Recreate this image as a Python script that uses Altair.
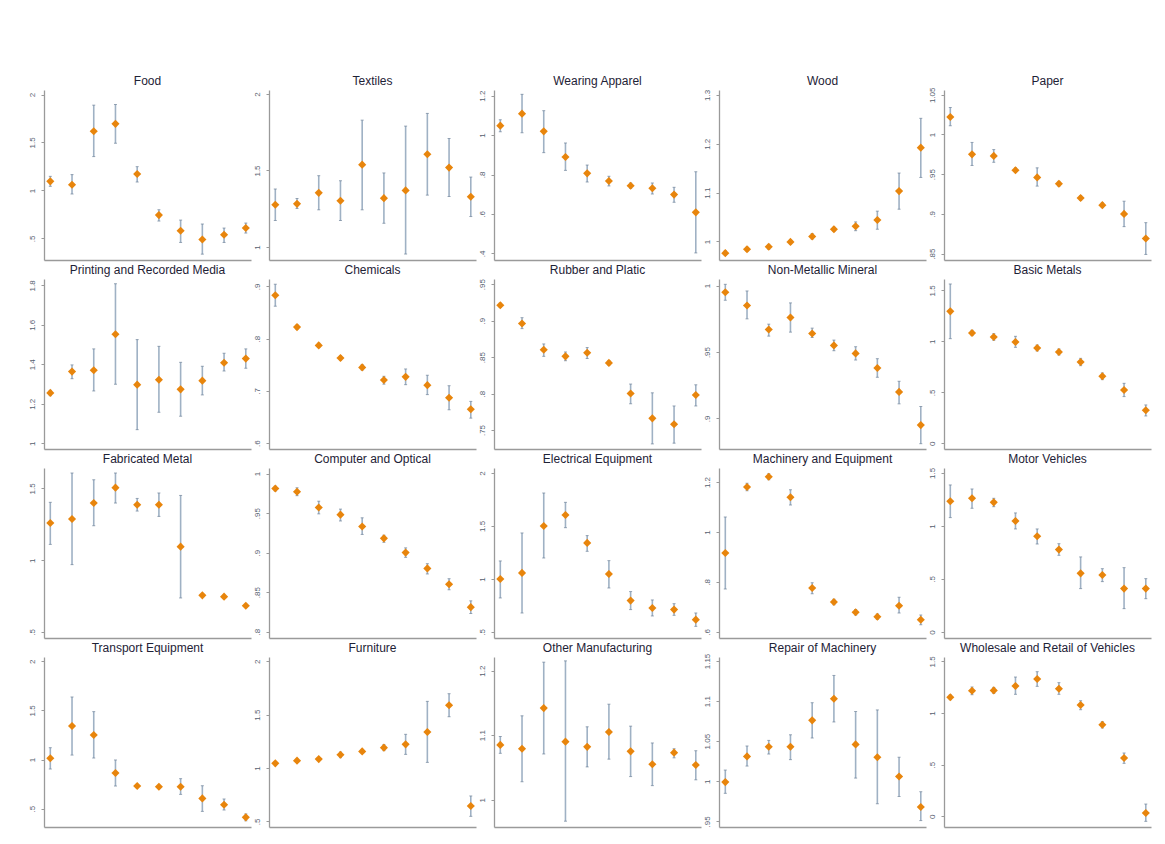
import altair as alt
import pandas as pd

PERIODS = list(range(1, 11))

# ---- estimates, lower and upper bounds per sector ----
food_est = [1.095, 1.060, 1.617, 1.694, 1.172, 0.743, 0.580, 0.489, 0.538, 0.608]
food_lo = [1.043, 0.963, 1.353, 1.492, 1.088, 0.681, 0.458, 0.336, 0.458, 0.556]
food_hi = [1.147, 1.165, 1.889, 1.896, 1.248, 0.799, 0.691, 0.650, 0.608, 0.660]

textiles_est = [1.276, 1.282, 1.354, 1.302, 1.538, 1.319, 1.370, 1.606, 1.519, 1.328]
textiles_lo = [1.173, 1.252, 1.243, 1.173, 1.243, 1.155, 0.954, 1.339, 1.330, 1.199]
textiles_hi = [1.379, 1.317, 1.466, 1.433, 1.829, 1.484, 1.790, 1.873, 1.709, 1.457]

apparel_est = [1.048, 1.109, 1.019, 0.889, 0.806, 0.767, 0.743, 0.730, 0.698, 0.608]
apparel_lo = [1.017, 1.012, 0.911, 0.821, 0.762, 0.742, 0.730, 0.701, 0.659, 0.402]
apparel_hi = [1.078, 1.207, 1.124, 0.960, 0.848, 0.791, 0.757, 0.757, 0.735, 0.814]

wood_est = [0.976, 0.984, 0.989, 0.999, 1.010, 1.025, 1.031, 1.044, 1.103, 1.192]
wood_lo = [0.972, 0.980, 0.984, 0.995, 1.005, 1.021, 1.022, 1.025, 1.066, 1.131]
wood_hi = [0.981, 0.988, 0.994, 1.003, 1.016, 1.029, 1.040, 1.062, 1.140, 1.252]

paper_est = [1.022, 0.975, 0.973, 0.955, 0.946, 0.938, 0.920, 0.911, 0.900, 0.869]
paper_lo = [1.011, 0.961, 0.965, 0.953, 0.935, 0.935, 0.917, 0.908, 0.884, 0.849]
paper_hi = [1.034, 0.990, 0.981, 0.958, 0.958, 0.941, 0.923, 0.914, 0.916, 0.889]

printing_est = [1.255, 1.363, 1.370, 1.552, 1.297, 1.322, 1.273, 1.317, 1.408, 1.429]
printing_lo = [1.241, 1.327, 1.265, 1.299, 1.069, 1.157, 1.137, 1.245, 1.366, 1.380]
printing_hi = [1.268, 1.397, 1.478, 1.808, 1.525, 1.491, 1.410, 1.390, 1.456, 1.478]

chemicals_est = [0.883, 0.822, 0.787, 0.763, 0.745, 0.721, 0.727, 0.711, 0.687, 0.665]
chemicals_lo = [0.862, 0.818, 0.783, 0.759, 0.740, 0.713, 0.712, 0.693, 0.664, 0.648]
chemicals_hi = [0.904, 0.826, 0.791, 0.767, 0.750, 0.728, 0.742, 0.730, 0.710, 0.680]

rubber_est = [0.921, 0.896, 0.860, 0.851, 0.856, 0.842, 0.800, 0.766, 0.758, 0.798]
rubber_lo = [0.918, 0.889, 0.851, 0.845, 0.848, 0.839, 0.786, 0.731, 0.732, 0.783]
rubber_hi = [0.924, 0.904, 0.868, 0.857, 0.863, 0.845, 0.813, 0.801, 0.783, 0.812]

mineral_est = [0.995, 0.985, 0.967, 0.976, 0.964, 0.955, 0.949, 0.938, 0.920, 0.895]
mineral_lo = [0.989, 0.975, 0.962, 0.965, 0.961, 0.951, 0.944, 0.931, 0.911, 0.881]
mineral_hi = [1.001, 0.996, 0.971, 0.987, 0.968, 0.959, 0.954, 0.945, 0.928, 0.909]

basic_est = [1.294, 1.082, 1.042, 0.993, 0.935, 0.895, 0.797, 0.657, 0.523, 0.324]
basic_lo = [1.026, 1.056, 1.010, 0.941, 0.905, 0.866, 0.761, 0.624, 0.458, 0.268]
basic_hi = [1.562, 1.108, 1.075, 1.049, 0.964, 0.925, 0.833, 0.690, 0.588, 0.376]

fabricated_est = [1.259, 1.287, 1.398, 1.505, 1.386, 1.386, 1.094, 0.755, 0.746, 0.683]
fabricated_lo = [1.110, 0.969, 1.240, 1.398, 1.342, 1.305, 0.737, 0.745, 0.737, 0.673]
fabricated_hi = [1.403, 1.607, 1.560, 1.607, 1.430, 1.468, 1.451, 0.765, 0.755, 0.693]

computer_est = [0.981, 0.977, 0.957, 0.948, 0.933, 0.918, 0.900, 0.880, 0.860, 0.831]
computer_lo = [0.978, 0.972, 0.949, 0.940, 0.923, 0.913, 0.894, 0.873, 0.853, 0.823]
computer_hi = [0.984, 0.982, 0.965, 0.955, 0.944, 0.922, 0.906, 0.886, 0.867, 0.839]

electrical_est = [1.000, 1.057, 1.500, 1.604, 1.340, 1.047, 0.796, 0.726, 0.711, 0.616]
electrical_lo = [0.821, 0.679, 1.198, 1.484, 1.261, 0.915, 0.711, 0.651, 0.657, 0.553]
electrical_hi = [1.170, 1.434, 1.811, 1.723, 1.409, 1.173, 0.881, 0.802, 0.767, 0.679]

machinery_est = [0.916, 1.180, 1.221, 1.139, 0.776, 0.720, 0.679, 0.661, 0.705, 0.649]
machinery_lo = [0.772, 1.165, 1.209, 1.108, 0.753, 0.709, 0.668, 0.651, 0.676, 0.629]
machinery_hi = [1.060, 1.195, 1.233, 1.169, 0.797, 0.731, 0.690, 0.672, 0.739, 0.668]

motor_est = [1.233, 1.261, 1.223, 1.047, 0.903, 0.777, 0.553, 0.538, 0.409, 0.409]
motor_lo = [1.079, 1.167, 1.182, 0.972, 0.830, 0.723, 0.409, 0.475, 0.220, 0.314]
motor_hi = [1.387, 1.349, 1.261, 1.123, 0.972, 0.833, 0.708, 0.597, 0.607, 0.503]

transport_est = [1.013, 1.342, 1.250, 0.863, 0.731, 0.724, 0.724, 0.605, 0.541, 0.412]
transport_lo = [0.904, 1.046, 1.016, 0.731, 0.715, 0.710, 0.646, 0.473, 0.487, 0.377]
transport_hi = [1.121, 1.637, 1.488, 0.996, 0.747, 0.738, 0.806, 0.734, 0.599, 0.447]

furniture_est = [1.044, 1.069, 1.084, 1.125, 1.156, 1.191, 1.222, 1.338, 1.588, 0.644]
furniture_lo = [1.032, 1.057, 1.072, 1.097, 1.140, 1.163, 1.128, 1.053, 1.481, 0.547]
furniture_hi = [1.056, 1.081, 1.096, 1.150, 1.172, 1.219, 1.316, 1.625, 1.697, 0.738]

other_est = [1.085, 1.079, 1.142, 1.090, 1.082, 1.105, 1.075, 1.055, 1.073, 1.054]
other_lo = [1.072, 1.028, 1.071, 0.967, 1.051, 1.063, 1.036, 1.022, 1.065, 1.031]
other_hi = [1.098, 1.130, 1.213, 1.215, 1.113, 1.148, 1.114, 1.088, 1.079, 1.076]

repair_est = [0.999, 1.031, 1.043, 1.043, 1.076, 1.103, 1.046, 1.030, 1.006, 0.968]
repair_lo = [0.985, 1.019, 1.034, 1.027, 1.054, 1.074, 1.004, 0.972, 0.981, 0.951]
repair_hi = [1.014, 1.044, 1.051, 1.058, 1.098, 1.132, 1.087, 1.089, 1.030, 0.987]

wholesale_est = [1.152, 1.216, 1.219, 1.261, 1.329, 1.235, 1.077, 0.887, 0.565, 0.032]
wholesale_lo = [1.129, 1.177, 1.190, 1.181, 1.258, 1.181, 1.032, 0.855, 0.513, -0.048]
wholesale_hi = [1.175, 1.252, 1.248, 1.348, 1.400, 1.294, 1.119, 0.916, 0.613, 0.119]

# ---- panel titles and y-axis tick labels ----
TITLES = [
    "Food", "Textiles", "Wearing Apparel", "Wood", "Paper",
    "Printing and Recorded Media", "Chemicals", "Rubber and Platic",
    "Non-Metallic Mineral", "Basic Metals",
    "Fabricated Metal", "Computer and Optical", "Electrical Equipment",
    "Machinery and Equipment", "Motor Vehicles",
    "Transport Equipment", "Furniture", "Other Manufacturing",
    "Repair of Machinery", "Wholesale and Retail of Vehicles",
]
Y_TICKS = [
    [0.5, 1, 1.5, 2], [1, 1.5, 2], [0.4, 0.6, 0.8, 1, 1.2], [1, 1.1, 1.2, 1.3],
    [0.85, 0.9, 0.95, 1, 1.05],
    [1, 1.2, 1.4, 1.6, 1.8], [0.6, 0.7, 0.8, 0.9], [0.75, 0.8, 0.85, 0.9, 0.95],
    [0.9, 0.95, 1], [0, 0.5, 1, 1.5],
    [0.5, 1, 1.5], [0.8, 0.85, 0.9, 0.95, 1], [0.5, 1, 1.5, 2],
    [0.6, 0.8, 1, 1.2], [0, 0.5, 1, 1.5],
    [0.5, 1, 1.5, 2], [0.5, 1, 1.5, 2], [1, 1.1, 1.2],
    [0.95, 1, 1.05, 1.1, 1.15], [0, 0.5, 1, 1.5],
]
Y_RANGE = [
    [0.275, 2.047], [0.915, 2.026], [0.366, 1.229], [0.962, 1.31], [0.842, 1.056],
    [0.971, 1.832], [0.589, 0.914], [0.724, 0.957], [0.877, 1.005], [-0.056, 1.611],
    [0.458, 1.642], [0.792, 1.007], [0.443, 2.047], [0.576, 1.256], [-0.057, 1.547],
    [0.314, 2.044], [0.447, 2.041], [0.958, 1.221], [0.943, 1.155], [-0.103, 1.542],
]
SERIES = [
    (food_est, food_lo, food_hi), (textiles_est, textiles_lo, textiles_hi),
    (apparel_est, apparel_lo, apparel_hi), (wood_est, wood_lo, wood_hi),
    (paper_est, paper_lo, paper_hi), (printing_est, printing_lo, printing_hi),
    (chemicals_est, chemicals_lo, chemicals_hi), (rubber_est, rubber_lo, rubber_hi),
    (mineral_est, mineral_lo, mineral_hi), (basic_est, basic_lo, basic_hi),
    (fabricated_est, fabricated_lo, fabricated_hi), (computer_est, computer_lo, computer_hi),
    (electrical_est, electrical_lo, electrical_hi), (machinery_est, machinery_lo, machinery_hi),
    (motor_est, motor_lo, motor_hi), (transport_est, transport_lo, transport_hi),
    (furniture_est, furniture_lo, furniture_hi), (other_est, other_lo, other_hi),
    (repair_est, repair_lo, repair_hi), (wholesale_est, wholesale_lo, wholesale_hi),
]

ORANGE = "#e8850c"
BAR = "#9fb1c4"
CAP = "#6d8298"
AXIS = "#9a9a9a"
FONT = "Liberation Sans"
W, H = 207, 170


def panel(title, ticks, yrange, est, lo, hi):
    df = pd.DataFrame({"period": PERIODS, "est": est, "lo": lo, "hi": hi})
    xscale = alt.Scale(domain=[0.71, 10.24], nice=False, zero=False)
    yscale = alt.Scale(domain=yrange, nice=False, zero=False)
    xaxis = alt.Axis(labels=False, ticks=False, title=None, grid=False,
                     domainColor=AXIS, domainWidth=1.3, minExtent=0, maxExtent=0)
    yaxis = alt.Axis(values=ticks, title=None, grid=False, labelAngle=270,
                     format=".4~g", labelExpr="replace(datum.label, '0.', '.')",
                     tickSize=3, labelPadding=5, minExtent=16, maxExtent=16,
                     domainColor=AXIS, domainWidth=1.3, tickColor=AXIS,
                     labelColor="#55606e", labelFont=FONT, labelFontSize=8)
    base = alt.Chart(df)
    bars = base.mark_rule(color=BAR, strokeWidth=1.6).encode(
        x=alt.X("period:Q", scale=xscale, axis=xaxis),
        y=alt.Y("lo:Q", scale=yscale, axis=yaxis),
        y2="hi:Q",
    )
    cap_lo = base.mark_tick(color=CAP, orient="horizontal", size=3, thickness=1).encode(
        x="period:Q", y="lo:Q")
    cap_hi = base.mark_tick(color=CAP, orient="horizontal", size=3, thickness=1).encode(
        x="period:Q", y="hi:Q")
    pts = base.mark_point(shape="diamond", filled=True, size=66, color=ORANGE,
                          opacity=1).encode(x="period:Q", y="est:Q")
    head = alt.Chart(pd.DataFrame({"name": [title]})).mark_text(
        font=FONT, fontSize=12, color="#1e2236", align="center", baseline="alphabetic"
    ).encode(text="name:N", x=alt.value(W / 2), y=alt.value(-5))
    return alt.layer(bars, cap_lo, cap_hi, pts, head).properties(width=W, height=H)


panels = [panel(TITLES[i], Y_TICKS[i], Y_RANGE[i], *SERIES[i]) for i in range(20)]

chart = alt.concat(*panels, columns=5, spacing={"row": 19, "column": 18},
                   bounds="flush").properties(
    padding={"left": 19, "top": 67, "right": 5, "bottom": 5},
    background="white",
).configure_view(stroke=None)

chart.save("out.html", embed_options={"renderer": "svg", "actions": False})
